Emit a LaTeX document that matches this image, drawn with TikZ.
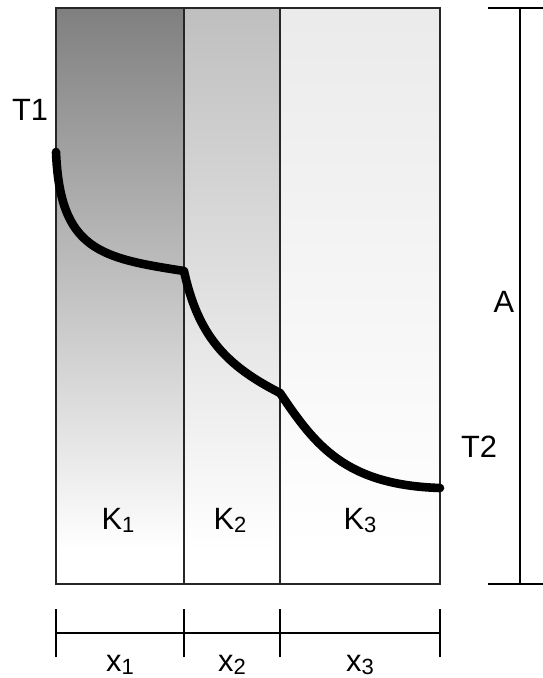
\documentclass[tikz,border=0pt]{standalone}
\usepackage{fontspec}
\setmainfont{Liberation Sans}
\usetikzlibrary{positioning}
\newcommand{\lowsub}[1]{\raisebox{-1.5pt}{\fontsize{11}{11}\selectfont #1}}

\begin{document}
\begin{tikzpicture}[x=0.5pt, y=-0.5pt,
  lbl/.style={font=\fontsize{15.4}{18}\selectfont, inner sep=0pt, anchor=base},
  wall/.style={draw=black!85, line width=0.7pt},
  dim/.style={draw=black, line width=0.9pt},
  curve/.style={line width=4.3pt, line cap=round, line join=round}
]
\useasboundingbox (0,0) rectangle (542,678);
% layer shading
\shade[top color=black!50, bottom color=white] (56,8) rectangle (184,550);
\shade[top color=black!25, bottom color=white] (184,8) rectangle (280,550);
\shade[top color=black!8, bottom color=white] (280,8) rectangle (440,550);
% wall corners
\coordinate (tl) at (56,8);
\coordinate (br) at (440,584);
\coordinate (d1t) at (184,8);
\coordinate (d1b) at (184,584);
\coordinate (d2t) at (280,8);
\coordinate (d2b) at (280,584);
\draw[wall] (tl) rectangle (br);
\draw[wall] (d1t)--(d1b);
\draw[wall] (d2t)--(d2b);
% temperature profile
\coordinate (p1) at (56,152);
\coordinate (p2) at (184,271);
\coordinate (p3) at (280,393);
\coordinate (p4) at (440,488);
\draw[curve] (p1) .. controls (60,250) and (100,258) .. (p2)
  .. controls (198,335) and (225,365) .. (p3)
  .. controls (315,445) and (345,485) .. (p4);
% labels
\node[lbl] (T1) at (30,121) {T1};
\node[lbl] (T2) at (479,457) {T2};
\node[lbl] (A) at (504,312) {A};
\node[lbl] (K1) at (118,529) {K\lowsub{1}};
\node[lbl] (K2) at (230,529) {K\lowsub{2}};
\node[lbl] (K3) at (360,529) {K\lowsub{3}};
% thickness dimension
\coordinate (x0) at (56,633);
\coordinate (x1) at (184,633);
\coordinate (x2) at (280,633);
\coordinate (x3) at (440,633);
\draw[dim] (x0)--(x3);
\draw[dim] ([yshift=-12pt]x0)--([yshift=12pt]x0);
\draw[dim] ([yshift=-12pt]x1)--([yshift=12pt]x1);
\draw[dim] ([yshift=-12pt]x2)--([yshift=12pt]x2);
\draw[dim] ([yshift=-12pt]x3)--([yshift=12pt]x3);
\node[lbl] (X1) at (120,671) {x\lowsub{1}};
\node[lbl] (X2) at (232,671) {x\lowsub{2}};
\node[lbl] (X3) at (360,671) {x\lowsub{3}};
% area dimension
\coordinate (at) at (520,8);
\coordinate (ab) at (520,584);
\draw[dim] (at)--(ab);
\draw[dim] ([xshift=-16pt]at)--([xshift=12pt]at);
\draw[dim] ([xshift=-16pt]ab)--([xshift=12pt]ab);
\end{tikzpicture}
\end{document}
